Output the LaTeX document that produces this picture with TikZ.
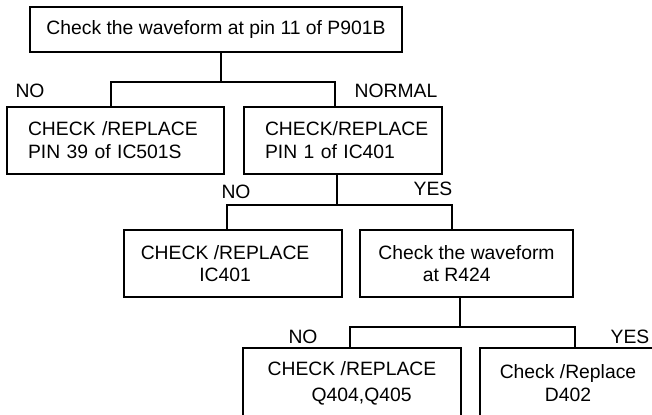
\documentclass[tikz,border=0pt]{standalone}
\usepackage{fontspec}
\setmainfont{Liberation Sans}
\usetikzlibrary{positioning,calc}
\tikzset{
 fcbox/.style={draw=black, line width=0.9pt, inner sep=0pt, font=\fontsize{11}{13}\selectfont, align=center},
 flabel/.style={inner sep=0pt, font=\fontsize{11}{13}\selectfont},
 flink/.style={draw=black, line width=0.9pt},
}
\newcommand{\fcnode}[7][]{%
 \node[fcbox, minimum width=#4*0.02cm, minimum height=#5*0.02cm, #1] (#2) at (#6,#7) {#3};}

\begin{document}
\begin{tikzpicture}[x=0.02cm, y=-0.02cm]
\clip (0,0) rectangle (652,414);
\fcnode{top}{Check the waveform at pin 11 of P901B}{372}{45}{216}{29.5}
\fcnode[text width=3.5cm, align=left]{pin39}{CHECK /REPLACE\\PIN 39 of IC501S}{217}{67}{115.5}{140.5}
\fcnode[text width=3.12cm, align=left]{pin1}{CHECK/REPLACE\\PIN 1 of IC401}{198}{67}{343}{140.5}
\fcnode{ic401}{CHECK /REPLACE\hspace*{9pt}\\IC401\hspace*{9pt}}{218}{67}{233}{263.5}
\fcnode{r424}{Check the waveform\\at R424\hspace*{11pt}}{213}{67}{466.5}{263.5}
\fcnode{q404}{CHECK /REPLACE\\[2pt]\hspace*{11pt}Q404,Q405}{218}{70}{352}{383}
\fcnode{d402}{Check /Replace\\D402}{176}{70}{568}{383}
% branches
\draw[flink] ($(top.south)+(5,0)$) -- ++(0,29) coordinate (j1);
\draw[flink] ($(pin39.north)+(-4.5,0)$) |- (j1) -| ($(pin1.north)+(-8,0)$);
\draw[flink] ($(pin1.south)+(-6,0)$) -- ++(0,30) coordinate (j2);
\draw[flink] ($(ic401.north)+(-6,0)$) |- (j2) -| ($(r424.north)+(-14.5,0)$);
\draw[flink] ($(r424.south)+(-6.5,0)$) -- ++(0,29) coordinate (j3);
\draw[flink] ($(q404.north)+(-2,0)$) |- (j3) -| ($(d402.north)+(7,0)$);
% answers
\node[flabel] (lno1) at (30,91) {NO};
\node[flabel] (lnormal) at (396,91) {NORMAL};
\node[flabel] (lno2) at (236,192) {NO};
\node[flabel] (lyes2) at (433,189) {YES};
\node[flabel] (lno3) at (303,337) {NO};
\node[flabel] (lyes3) at (630,337) {YES};
\end{tikzpicture}
\end{document}
